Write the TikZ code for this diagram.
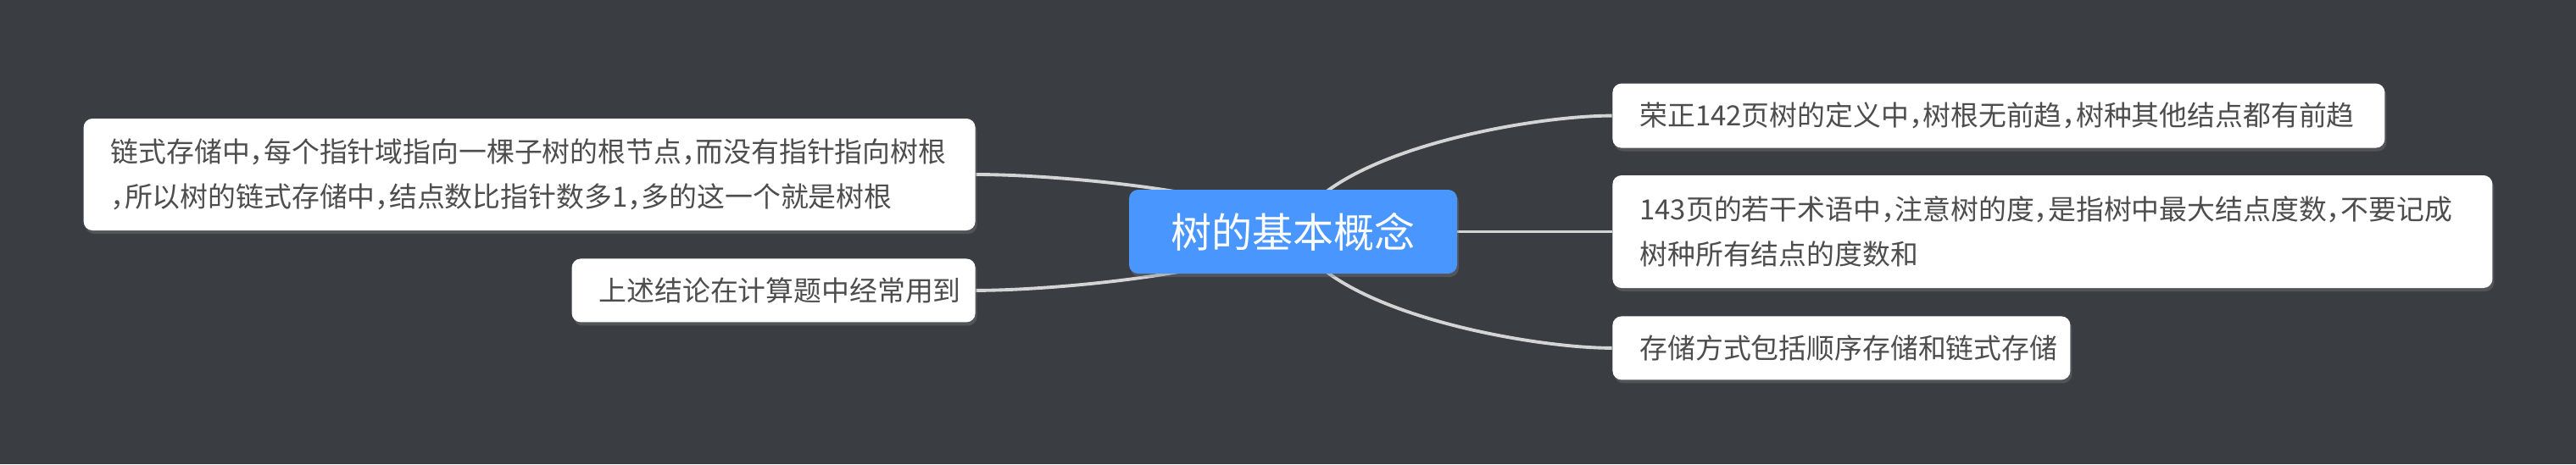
\documentclass[tikz,border=0pt]{standalone}
\usepackage{fontspec}
\setmainfont{Noto Sans CJK SC}[RawFeature=+halt]
\usepackage{xcolor}
\usetikzlibrary{positioning, shadows}
\definecolor{bgdark}{RGB}{58,61,66}
\definecolor{rootblue}{RGB}{73,150,255}
\definecolor{leaftext}{RGB}{77,77,77}
\definecolor{linkgray}{RGB}{212,212,212}
\pgfdeclarelayer{back}
\pgfdeclarelayer{edges}
\pgfsetlayers{back,edges,main}
\tikzset{
    rootnode/.style={rectangle, rounded corners=3pt, fill=rootblue, text=white, minimum width=3.87cm, minimum height=0.99cm, inner sep=0pt, font=\fontsize{13.7}{16}\selectfont, drop shadow={shadow xshift=0.02cm, shadow yshift=-0.04cm, opacity=0.35}},
    leaf/.style={rectangle, rounded corners=3pt, fill=white, text=leaftext, align=left, inner xsep=0.32cm, inner ysep=0pt, minimum height=0.75cm, font=\fontsize{9.35}{15}\selectfont, drop shadow={shadow xshift=0.02cm, shadow yshift=-0.04cm, opacity=0.35}},
    link/.style={draw=linkgray, line width=1.1pt}
}

\begin{document}
\begin{tikzpicture}[node distance=0.32cm]
  \useasboundingbox (0,0) rectangle (30.39,-5.48);
  \begin{pgfonlayer}{back}
    \fill[bgdark] (0,0) rectangle (30.39,-5.48);
  \end{pgfonlayer}
  \node[rootnode] (root) at (15.255,-2.735) {树的基本概念};
  \node[leaf, text width=9.74cm, minimum height=1.33cm, right=1.82cm of root] (degree) {143页的若干术语中，注意树的度，是指树中最大结点度数，不要记成\\树种所有结点的度数和};
  \node[leaf, text width=8.47cm, minimum height=0.76cm, above=0.31cm of degree.north west, anchor=south west] (define) {荣正142页树的定义中，树根无前趋，树种其他结点都有前趋};
  \node[leaf, text width=4.76cm, below=0.32cm of degree.south west, anchor=north west] (storage) {存储方式包括顺序存储和链式存储};
  \node[leaf, text width=9.88cm, minimum height=1.32cm, above left=0.675cm and 1.8cm of root.west, anchor=east] (chain) {链式存储中，每个指针域指向一棵子树的根节点，而没有指针指向树根\\，所以树的链式存储中，结点数比指针数多1，多的这一个就是树根};
  \node[leaf, text width=4.12cm, below=0.32cm of chain.south east, anchor=north east] (usage) {上述结论在计算题中经常用到};
  \begin{pgfonlayer}{edges}
    \draw[link] (root.center) .. controls +(0.35,0.93) and +(-1,0) .. (define.west);
    \draw[link] (root.center) -- (degree.west);
    \draw[link] (root.center) .. controls +(0.35,-0.93) and +(-1,0) .. (storage.west);
    \draw[link] (root.center) .. controls +(-0.35,0.46) and +(1,0) .. (chain.east);
    \draw[link] (root.center) .. controls +(-0.35,-0.46) and +(1,0) .. (usage.east);
  \end{pgfonlayer}
\end{tikzpicture}
\end{document}
